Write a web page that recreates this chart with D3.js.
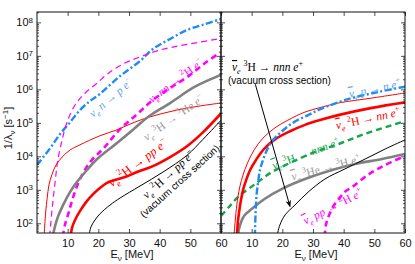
<!DOCTYPE html>
<html>
<head>
<meta charset="utf-8">
<script src="https://cdn.jsdelivr.net/npm/d3@7"></script>
<style>
  body { margin: 0; background: #fff; }
  svg { display: block; }
</style>
</head>
<body>
<svg id="chart" width="415" height="264"></svg>
<script>
// tick labels
var xTicks = [10, 20, 30, 40, 50, 60];
var yMajor = [1e2, 1e3, 1e4, 1e5, 1e6, 1e7, 1e8];

// left panel: neutrino reactions (E in MeV, rate in 1/s)
var nuN_E = [0, 4.2, 7.5, 10.8, 14, 17.3, 20.5, 27.1, 33.6, 37.8, 43.4, 48.9, 54.8, 60];
var nuN_V = [5.5e3, 1.7e4, 4.6e4, 1.05e5, 2.4e5, 4.5e5, 7.3e5, 2.5e6, 7e6, 1.6e7, 3.2e7, 5.9e7, 8.9e7, 1.26e8];

var nuNNthin_E = [4.1, 4.9, 5.9, 6.8, 8.2, 9.8, 12.4, 15.7, 19.6, 23.8, 28.7, 33.6, 40.1, 48.9, 60];
var nuNNthin_V = [40, 250, 1700, 7800, 3.1e4, 1.05e5, 3.4e5, 7.8e5, 1.55e6, 3.3e6, 6.1e6, 9.3e6, 1.5e7, 2.2e7, 3.3e7];

var nuNN_E = [8.4, 9.1, 10.4, 11.5, 13.2, 15.3, 18, 21.5, 27.1, 32.6, 37.8, 43.4, 48.9, 54.8, 60];
var nuNN_V = [40, 89, 220, 500, 1400, 3500, 8000, 1.65e4, 6.5e4, 1.8e5, 4.8e5, 1.1e6, 2.3e6, 6.1e6, 1.3e7];

var redThinL_E = [2.3, 2.6, 2.9, 3.3, 3.9, 4.9, 6.2, 8.2, 10.8, 14, 20.5, 26.1, 31.3, 36.8, 45.6, 53.2, 60];
var redThinL_V = [40, 110, 250, 540, 1400, 2900, 5500, 9500, 1.55e4, 2.2e4, 4.1e4, 6.2e4, 1e5, 1.5e5, 2.4e5, 3.2e5, 3.9e5];

var nuH3_E = [5.1, 5.9, 6.8, 8.5, 10.8, 13, 16.3, 19.6, 26.1, 31.3, 36.2, 43.4, 51.5, 60];
var nuH3_V = [40, 83, 155, 350, 870, 1700, 3900, 8300, 2.5e4, 6.2e4, 1.5e5, 3.9e5, 1.2e6, 2.7e6];

var nuD_E = [11, 11.4, 12.4, 14, 16, 18.3, 20.5, 22.8, 25.4, 28.7, 32.6, 37.8, 43.4, 48.9, 54.1, 60];
var nuD_V = [40, 72, 125, 230, 430, 740, 1130, 1600, 1960, 2400, 3400, 5100, 9500, 2e4, 5.2e4, 1.9e5];

var nuDvac_E = [16.9, 17.6, 18.9, 20.5, 23.8, 27.1, 33.6, 41.1, 48.9, 54.1, 60];
var nuDvac_V = [40, 78, 125, 190, 350, 570, 1300, 3400, 1.07e4, 3.2e4, 1.2e5];

// right panel: antineutrino reactions
var anuP_E = [11.05, 11.25, 11.6, 12.1, 12.7, 13.7, 15, 16.6, 19.9, 23.8, 28.4, 32.6, 41.4, 51.2, 60];
var anuP_V = [40, 178, 700, 1700, 3900, 7800, 1.55e4, 2.8e4, 5.6e4, 1.05e5, 1.7e5, 2.6e5, 5.1e5, 8.3e5, 1.2e6];

var redThinR_E = [4.2, 4.6, 4.9, 5.5, 6.2, 7.2, 8.5, 10.8, 13.7, 17.6, 21.8, 27.4, 32.6, 38.2, 49.2, 60];
var redThinR_V = [40, 110, 215, 600, 1300, 2800, 5900, 1.55e4, 3.5e4, 7.1e4, 1.2e5, 2.1e5, 2.9e5, 3.9e5, 5.5e5, 7.8e5];

var anuD_E = [5.2, 5.5, 5.9, 6.5, 7.2, 8.2, 9.5, 11.4, 14, 17.6, 22.5, 27.4, 32.6, 38.2, 49.2, 60];
var anuD_V = [40, 110, 215, 490, 1000, 1950, 3900, 7800, 1.65e4, 3.2e4, 5.6e4, 8.7e4, 1.23e5, 1.7e5, 2.8e5, 4.1e5];

var anuH3_E = [0, 2.9, 5.5, 11.1, 16.6, 23.2, 30.7, 38.2, 47, 60];
var anuH3_V = [165, 330, 600, 1480, 3400, 6800, 1.35e4, 2.3e4, 4.7e4, 1.12e5];

var anuHe3_E = [5.4, 6.2, 7.5, 10.1, 14.3, 19.9, 27.4, 36.2, 43.7, 52.5, 60];
var anuHe3_V = [40, 89, 165, 270, 540, 1070, 2100, 3900, 5900, 8300, 1.17e4];

var anuH3vac_E = [18.2, 19.2, 20.9, 24.1, 28.4, 33.9, 40.4, 47, 53.5, 60];
var anuH3vac_V = [40, 89, 178, 350, 850, 2100, 4200, 8300, 1.65e4, 3.1e4];

var anuPP_E = [33.8, 34.2, 34.9, 36.5, 38.2, 40.4, 42.7, 47.9, 53.5, 60];
var anuPP_V = [40, 89, 145, 310, 500, 870, 1200, 2800, 5500, 1.02e4];

// colours
var BLUE = "#1e8cf5", MAG = "#ff00ff", RED = "#ff0000", GRAY = "#808080", GREEN = "#12a54a";

var svg = d3.select("#chart");
var top_ = 12, bottom = 233;

var xL = d3.scaleLinear().domain([0, 60]).range([37, 221]);
var xR = d3.scaleLinear().domain([0, 60]).range([221, 405]);
var y = d3.scaleLog().domain([Math.pow(10, 1.71), Math.pow(10, 8.31)]).range([bottom, top_]);

// minor log ticks
var yMinor = [];
for (var d = 1; d <= 8; d++) {
  for (var m = 2; m <= 9; m++) {
    var v = m * Math.pow(10, d);
    if (v > y.domain()[0] && v < y.domain()[1]) yMinor.push(v);
  }
}

var sans = "'Liberation Sans', Arial, sans-serif";
var serif = "'Liberation Serif', 'DejaVu Serif', serif";

// write math-ish text as tspans: i italic, r roman, sub, sup, bar (nu-bar)
function mathText(sel, parts, size) {
  var shift = 0;
  parts.forEach(function(p) {
    var t = p[0], mode = p[1];
    var target = 0;
    if (mode === "sub") target = size * 0.3;
    if (mode === "sup") target = -size * 0.42;
    var ts = sel.append("tspan").text(t)
      .attr("dy", target - shift)
      .attr("font-size", (mode === "sub" || mode === "sup") ? size * 0.7 : size)
      .attr("font-style", (mode === "i" || mode === "sub" || mode === "bar") ? "italic" : "normal");
    if (mode === "bar") ts.style("text-decoration", "overline");
    shift = target;
  });
}

function label(g, cx, cy, angle, size, color, parts) {
  var t = g.append("text")
    .attr("transform", "translate(" + cx + "," + cy + ") rotate(" + angle + ")")
    .attr("text-anchor", "middle")
    .attr("y", size * 0.3)
    .attr("font-family", serif)
    .attr("fill", color);
  mathText(t, parts, size);
  return t;
}

var defs = svg.append("defs");
defs.append("marker").attr("id", "arrow")
  .attr("viewBox", "0 0 10 10").attr("refX", 9).attr("refY", 5)
  .attr("markerWidth", 7).attr("markerHeight", 7).attr("orient", "auto")
  .append("path").attr("d", "M0,1 L10,5 L0,9 L3,5 Z").attr("fill", "#000");

function panel(x, id, series, yLabels) {
  defs.append("clipPath").attr("id", id)
    .append("rect").attr("x", x.range()[0]).attr("y", top_)
    .attr("width", x.range()[1] - x.range()[0]).attr("height", bottom - top_);

  var g = svg.append("g");
  var lines = g.append("g").attr("clip-path", "url(#" + id + ")");

  series.forEach(function(s) {
    var pts = s.e.map(function(e, i) { return [e, s.v[i]]; });
    var line = d3.line()
      .x(function(p) { return x(p[0]); })
      .y(function(p) { return y(p[1]); })
      .curve(d3.curveCatmullRom.alpha(0.5));
    lines.append("path").datum(pts)
      .attr("d", line)
      .attr("fill", "none")
      .attr("stroke", s.color)
      .attr("stroke-width", s.width)
      .attr("stroke-dasharray", s.dash || null);
  });

  var x0 = x.range()[0], x1 = x.range()[1];
  var noLab = function() { return ""; };

  g.append("g").attr("transform", "translate(0," + bottom + ")")
    .call(d3.axisBottom(x).tickValues(xTicks).tickSize(-4).tickPadding(6).tickFormat(d3.format("d")));
  g.append("g").attr("transform", "translate(0," + top_ + ")")
    .call(d3.axisTop(x).tickValues(xTicks).tickSize(-4).tickFormat(noLab));

  var al = g.append("g").attr("transform", "translate(" + x0 + ",0)")
    .call(d3.axisLeft(y).tickValues(yMajor).tickSize(-4).tickPadding(4).tickFormat(yLabels ? function(v) { return "10"; } : noLab));
  g.append("g").attr("transform", "translate(" + x0 + ",0)")
    .call(d3.axisLeft(y).tickValues(yMinor).tickSize(-2).tickFormat(noLab));
  g.append("g").attr("transform", "translate(" + x1 + ",0)")
    .call(d3.axisRight(y).tickValues(yMajor).tickSize(-4).tickFormat(noLab));
  g.append("g").attr("transform", "translate(" + x1 + ",0)")
    .call(d3.axisRight(y).tickValues(yMinor).tickSize(-2).tickFormat(noLab));

  g.selectAll(".domain").remove();
  g.selectAll(".tick line").attr("stroke", "#222").attr("stroke-width", 0.8);
  g.selectAll("text").attr("font-family", sans).attr("font-size", 11).attr("fill", "#111");

  if (yLabels) {
    al.selectAll(".tick text").each(function(v) {
      d3.select(this).append("tspan")
        .attr("dy", "-0.45em").attr("font-size", 8)
        .text(Math.round(Math.log10(v)));
    });
  }

  g.append("rect").attr("x", x0).attr("y", top_)
    .attr("width", x1 - x0).attr("height", bottom - top_)
    .attr("fill", "none").attr("stroke", "#111").attr("stroke-width", 1);

  // x title
  var xt = g.append("text")
    .attr("x", (x0 + x1) / 2 + 3).attr("y", 258)
    .attr("text-anchor", "middle")
    .attr("font-family", sans).attr("fill", "#111");
  xt.append("tspan").attr("font-size", 11).text("E");
  xt.append("tspan").attr("font-size", 8).attr("dy", 3).text("\u03BD");
  xt.append("tspan").attr("font-size", 11).attr("dy", -3).text(" [MeV]");

  return g;
}

var gl = panel(xL, "clipL", [
  { e: nuN_E, v: nuN_V, color: BLUE, width: 2.4, dash: "7,2.5,2,2.5" },
  { e: nuNNthin_E, v: nuNNthin_V, color: MAG, width: 1.2, dash: "6,4" },
  { e: nuNN_E, v: nuNN_V, color: MAG, width: 2.6, dash: "6,4" },
  { e: redThinL_E, v: redThinL_V, color: RED, width: 1 },
  { e: nuH3_E, v: nuH3_V, color: GRAY, width: 2.6 },
  { e: nuD_E, v: nuD_V, color: RED, width: 2.6 },
  { e: nuDvac_E, v: nuDvac_V, color: "#000", width: 1 }
], true);

var gr = panel(xR, "clipR", [
  { e: anuH3_E, v: anuH3_V, color: GREEN, width: 2.4, dash: "6,4" },
  { e: anuHe3_E, v: anuHe3_V, color: GRAY, width: 2.6 },
  { e: anuH3vac_E, v: anuH3vac_V, color: "#000", width: 1 },
  { e: anuPP_E, v: anuPP_V, color: MAG, width: 2.6, dash: "6,4" },
  { e: redThinR_E, v: redThinR_V, color: RED, width: 1 },
  { e: anuD_E, v: anuD_V, color: RED, width: 2.6 },
  { e: anuP_E, v: anuP_V, color: BLUE, width: 2.4, dash: "7,2.5,2,2.5" }
], false);

// y title
var yt = svg.append("text")
  .attr("transform", "translate(12,128) rotate(-90)")
  .attr("text-anchor", "middle")
  .attr("font-family", sans).attr("fill", "#111");
yt.append("tspan").attr("font-size", 11).text("1/\u03BB");
yt.append("tspan").attr("font-size", 8).attr("dy", 3).text("\u03BD");
yt.append("tspan").attr("font-size", 11).attr("dy", -3).text(" [s");
yt.append("tspan").attr("font-size", 8).attr("dy", -4).text("\u22121");
yt.append("tspan").attr("font-size", 11).attr("dy", 4).text("]");

// left panel labels
var NU = "\u03BD", AR = " \u2192 ";
label(gl, 111, 98, -40, 11.5, "#5aa5ee", [[NU, "i"], ["e", "sub"], [" n", "i"], [AR, "r"], ["p", "i"], [" e", "i"], ["\u2212", "sup"]]);
label(gl, 176, 81, -37, 11.5, MAG, [[NU, "i"], ["e", "sub"], [" nn", "i"], [AR, "r"], ["2", "sup"], ["H", "r"], [" e", "i"], ["\u2212", "sup"]]);
label(gl, 174, 118, -35, 11.5, "#9a9a9a", [[NU, "i"], ["e", "sub"], [" ", "r"], ["3", "sup"], ["H", "r"], [AR, "r"], ["3", "sup"], ["He", "r"], [" e", "i"], ["\u2212", "sup"]]);
label(gl, 138, 163, -37, 12.5, RED, [[NU, "i"], ["e", "sub"], [" ", "r"], ["2", "sup"], ["H", "r"], [AR, "r"], ["pp", "i"], [" e", "i"], ["\u2212", "sup"]]);

var vac = gl.append("g").attr("transform", "translate(176,177) rotate(-42)");
var v1 = vac.append("text").attr("x", -4).attr("y", -3).attr("text-anchor", "middle")
  .attr("font-family", serif).attr("fill", "#000");
mathText(v1, [[NU, "i"], ["e", "sub"], [" ", "r"], ["2", "sup"], ["H", "r"], [AR, "r"], ["pp", "i"], [" e", "i"], ["\u2212", "sup"]], 11.5);
vac.append("text").attr("x", 0).attr("y", 9).attr("text-anchor", "middle")
  .attr("font-family", sans).attr("font-size", 10).attr("fill", "#000")
  .text("(vacuum cross section)");

// right panel labels
var t1 = gr.append("text").attr("x", 232).attr("y", 71)
  .attr("font-family", serif).attr("fill", "#000");
mathText(t1, [[NU, "bar"], ["e", "sub"], [" ", "r"], ["3", "sup"], ["H", "r"], [AR, "r"], ["nnn", "i"], [" e", "i"], ["+", "sup"]], 11.5);
gr.append("text").attr("x", 228).attr("y", 84)
  .attr("font-family", sans).attr("font-size", 10).attr("fill", "#000")
  .text("(vacuum cross section)");

gr.append("line")
  .attr("x1", xR(11.2)).attr("y1", y(Math.pow(10, 6.15)))
  .attr("x2", xR(22.5)).attr("y2", y(Math.pow(10, 2.5)))
  .attr("stroke", "#000").attr("stroke-width", 1)
  .attr("marker-end", "url(#arrow)");

label(gr, 375, 89, -12, 11.5, "#5aa5ee", [[NU, "bar"], ["e", "sub"], [" p", "i"], [AR, "r"], ["n", "i"], [" e", "i"], ["+", "sup"]]);
label(gr, 368, 119, -12, 11.5, RED, [[NU, "bar"], ["e", "sub"], [" ", "r"], ["2", "sup"], ["H", "r"], [AR, "r"], ["nn", "i"], [" e", "i"], ["+", "sup"]]);
label(gr, 306, 154, -20, 11.5, GREEN, [[NU, "bar"], ["e", "sub"], [" ", "r"], ["3", "sup"], ["H", "r"], [AR, "r"], ["nnn", "i"], [" e", "i"], ["+", "sup"]]);
label(gr, 326, 168, -15, 11.5, "#9a9a9a", [[NU, "bar"], ["e", "sub"], [" ", "r"], ["3", "sup"], ["He", "r"], [AR, "r"], ["3", "sup"], ["H", "r"], [" e", "i"], ["+", "sup"]]);
label(gr, 333, 207, -27, 11.5, MAG, [[NU, "bar"], ["e", "sub"], [" ", "r"], ["pp", "i"], [AR, "r"], ["2", "sup"], ["H", "r"], [" e", "i"], ["+", "sup"]]);
</script>
</body>
</html>
